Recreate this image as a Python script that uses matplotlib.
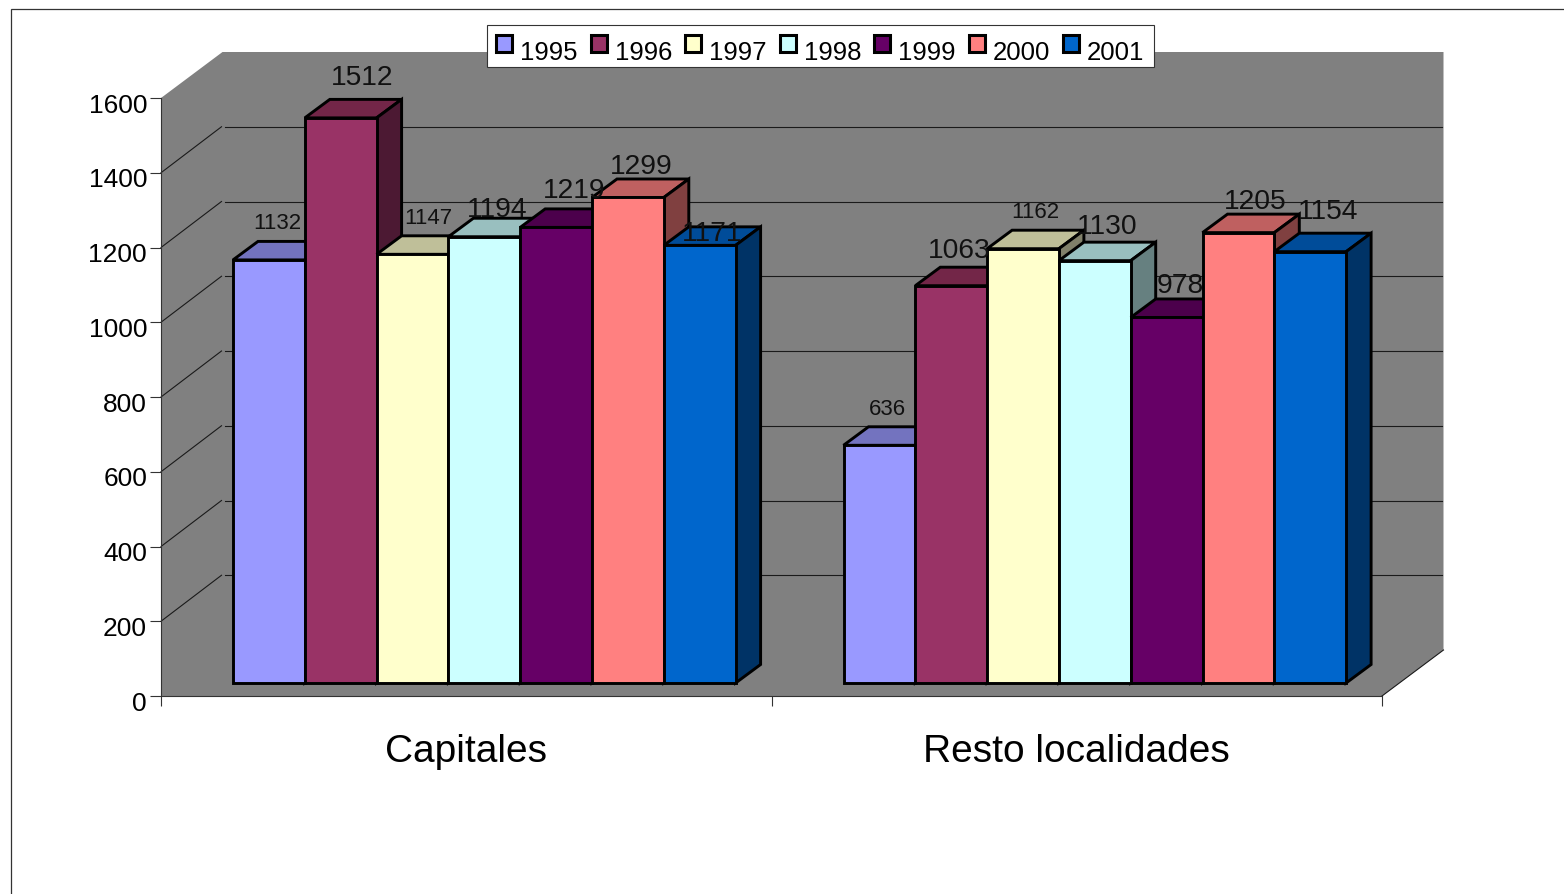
import matplotlib
matplotlib.use("Agg")
import matplotlib.pyplot as plt
from matplotlib.patches import Patch, Polygon, Rectangle
from matplotlib.transforms import ScaledTranslation

plt.rcParams["font.family"] = ["Liberation Sans", "DejaVu Sans"]

categorias = ["Capitales", "Resto localidades"]
anios = ["1995", "1996", "1997", "1998", "1999", "2000", "2001"]
valores = [
    [1132, 636],
    [1512, 1063],
    [1147, 1162],
    [1194, 1130],
    [1219, 978],
    [1299, 1205],
    [1171, 1154],
]
marcas_y = [0, 200, 400, 600, 800, 1000, 1200, 1400, 1600]

colores = ["#9999FF", "#993366", "#FFFFCC", "#CCFFFF", "#660066", "#FF8080", "#0066CC"]
techos = ["#7373BF", "#732648", "#BFBF99", "#99BFBF", "#4C004C", "#BF6060", "#004C99"]
lados = ["#4C4C80", "#4C1933", "#80806A", "#668080", "#330033", "#804040", "#003366"]

# offset of each label from its bar top (px) and font size, per series and category
etiq_dx = [[8, 8], [21, 8], [16, 12], [13, 12], [18, 14], [13, 17], [12, 18]]
etiq_dy = [[37, 37], [41, 36], [37, 37], [28, 35], [37, 32], [31, 32], [12, 41]]
etiq_fs = [[16, 16], [20.3, 20.3], [16, 16], [20.3, 20.3], [20.3, 20.3], [20.3, 20.3], [20.3, 20.3]]

fig = plt.figure(figsize=(15.64, 8.95), dpi=100)
W, H = 1564, 895
ax = fig.add_axes([161 / W, 1 - 697 / H, (1382 - 161) / W, (697 - 99) / H])
ax.set_xlim(0, 2)
ax.set_ylim(0, 1600)
ax.patch.set_visible(False)

# pixel sizes of the fake 3D turned into data units
ux = 2 / (1382 - 161)
uy = 1600 / (697 - 99)
pared_x = 61.5 * ux
pared_y = 46 * uy
fondo_x = 25 * ux
fondo_y = 18.5 * uy
ancho = 71.8 * ux
inicio = 72 * ux
base = 13 * uy

# walls and floor
ax.add_patch(Polygon([(0, 0), (0, 1600), (pared_x, 1600 + pared_y), (2 + pared_x, 1600 + pared_y),
                      (2 + pared_x, pared_y), (2, 0)],
                     facecolor="#808080", edgecolor="none", clip_on=False, zorder=1))
for v in marcas_y[1:-1]:
    ax.plot([0, pared_x - 1 * ux], [v, v + pared_y], color="#1a1a1a", lw=0.8, zorder=2, clip_on=False)
    ax.plot([pared_x + 2 * ux, 2 + pared_x - 2 * ux], [v + pared_y, v + pared_y], color="#1a1a1a", lw=0.8,
            zorder=2, clip_on=False)
ax.plot([2, 2 + pared_x], [0, pared_y], color="#1a1a1a", lw=0.8, zorder=2, clip_on=False)

z = 3
for c in range(len(categorias)):
    for s in range(len(anios)):
        x0 = c + inicio + s * ancho
        x1 = x0 + ancho
        v = valores[s][c]
        y1 = base + v
        estilo = dict(edgecolor="black", linewidth=2.1, joinstyle="miter", clip_on=False, zorder=z)
        ax.add_patch(Polygon([(x0, y1), (x0 + fondo_x, y1 + fondo_y), (x1 + fondo_x, y1 + fondo_y), (x1, y1)],
                             facecolor=techos[s], **estilo))
        ax.add_patch(Polygon([(x1, base), (x1 + fondo_x, base + fondo_y), (x1 + fondo_x, y1 + fondo_y), (x1, y1)],
                             facecolor=lados[s], **estilo))
        ax.bar(x0, v, width=ancho, bottom=base, align="edge", color=colores[s], **estilo)
        ax.annotate(str(v), xy=(x0 + ancho / 2, y1), xycoords="data",
                    xytext=(etiq_dx[s][c], etiq_dy[s][c]), textcoords="offset pixels",
                    ha="center", va="center", fontsize=etiq_fs[s][c], color="#111111",
                    annotation_clip=False, zorder=100)
        z += 1

for lado in ["top", "right"]:
    ax.spines[lado].set_visible(False)
for lado in ["left", "bottom"]:
    ax.spines[lado].set_color("#333333")
    ax.spines[lado].set_linewidth(0.8)
    ax.spines[lado].set_zorder(2)

ax.set_yticks(marcas_y)
ax.tick_params(axis="y", length=8, width=0.8, color="#333333", labelsize=19, pad=2)
bajar = ScaledTranslation(0, -3 / 72, fig.dpi_scale_trans)
for t in ax.get_yticklabels():
    t.set_transform(t.get_transform() + bajar)

ax.set_xticks([0, 1, 2])
ax.set_xticklabels([])
ax.tick_params(axis="x", which="major", length=7.5, width=0.8, color="#333333")
ax.set_xticks([0.5, 1.5], minor=True)
ax.set_xticklabels(categorias, minor=True)
ax.tick_params(axis="x", which="minor", length=0, labelsize=28, pad=26.5)

# legend, the text sits lower than the squares like in the original
asas = [Patch(facecolor=colores[s], edgecolor="black", linewidth=2.2, joinstyle="round") for s in range(len(anios))]
ley = fig.legend(asas, anios, ncol=7, loc="upper left", bbox_to_anchor=(487 / W, 1 - 25.5 / H),
                 fontsize=18.5, frameon=True, fancybox=False, edgecolor="#333333", framealpha=1,
                 handlelength=0.62, handleheight=0.62, handletextpad=0.32, columnspacing=0.5,
                 borderpad=0.36, borderaxespad=0)
ley.get_frame().set_linewidth(0.8)
ley.set_zorder(200)
for t in ley.get_texts():
    t.set_position((0, -6))

# frame of the chart area, cut by the image edge
fig.add_artist(Rectangle((11 / W, -0.1), 1.1, 1.1 - 10 / H, transform=fig.transFigure,
                         facecolor="none", edgecolor="#333333", linewidth=0.9))

fig.savefig("out.png", dpi=100)
